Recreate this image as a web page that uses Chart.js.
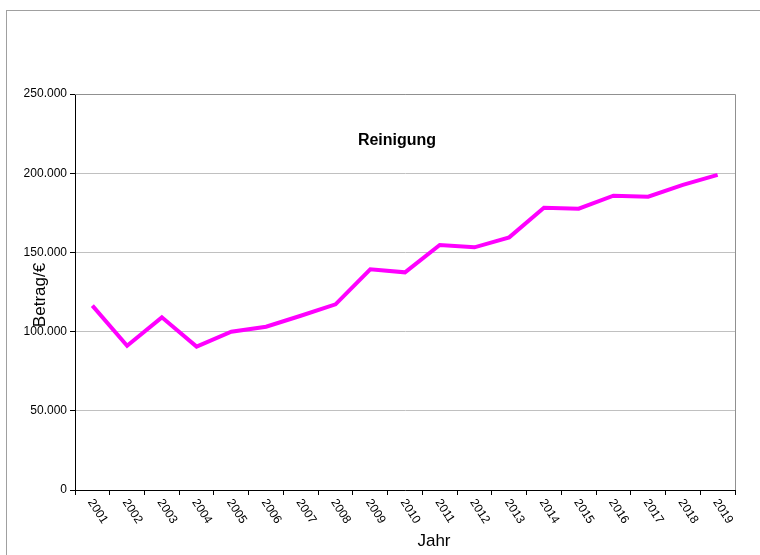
<!DOCTYPE html>
<html>
<head>
<meta charset="utf-8">
<title>Reinigung</title>
<script src="https://cdn.jsdelivr.net/npm/chart.js@4.4.1/dist/chart.umd.min.js"></script>
<style>
    body { margin: 0; background: #fff; }
    #wrap { width: 760px; height: 555px; }
</style>
</head>
<body>
<div id="wrap"><canvas id="lineChart" width="760" height="555"></canvas></div>
<script>
const years = ['2001', '2002', '2003', '2004', '2005', '2006', '2007', '2008', '2009', '2010',
    '2011', '2012', '2013', '2014', '2015', '2016', '2017', '2018', '2019'];
const amounts = [116400, 91100, 109000, 90500, 99900, 103100, 110000, 117200, 139300, 137400,
    154700, 153200, 159500, 178200, 177600, 185800, 185200, 192600, 198900];
const yTicks = [0, 50000, 100000, 150000, 200000, 250000];

function formatNumber(v) {
    return v.toString().replace(/\B(?=(\d{3})+(?!\d))/g, '.');
}

// frame, plot border, title, axis titles and slanted year labels
const excelLook = {
    id: 'excelLook',
    beforeDraw(chart) {
        const ctx = chart.ctx;
        ctx.save();
        ctx.strokeStyle = '#a0a0a0';
        ctx.lineWidth = 1;
        ctx.strokeRect(6.5, 10.5, 800, 700);
        ctx.restore();
    },
    afterDraw(chart) {
        const ctx = chart.ctx;
        const area = chart.chartArea;
        const xScale = chart.scales.x;

        ctx.save();
        ctx.strokeStyle = '#909090';
        ctx.lineWidth = 1;
        ctx.beginPath();
        ctx.moveTo(area.left, area.top + 0.5);
        ctx.lineTo(area.right + 0.5, area.top + 0.5);
        ctx.lineTo(area.right + 0.5, area.bottom);
        ctx.stroke();

        ctx.fillStyle = '#000';
        ctx.font = 'bold 16px "Liberation Sans", Arial, sans-serif';
        ctx.textAlign = 'center';
        ctx.textBaseline = 'middle';
        ctx.fillText('Reinigung', area.left + 322, area.top + 47);

        ctx.font = '17px "Liberation Sans", Arial, sans-serif';
        ctx.fillText('Jahr', 434, 541);

        ctx.save();
        ctx.translate(40, 295);
        ctx.rotate(-Math.PI / 2);
        ctx.fillText('Betrag/€', 0, 0);
        ctx.restore();

        ctx.font = '12px "Liberation Sans", Arial, sans-serif';
        ctx.textAlign = 'left';
        ctx.textBaseline = 'top';
        years.forEach((label, i) => {
            const x = xScale.getPixelForValue(i);
            ctx.save();
            ctx.translate(x + 3, 497);
            ctx.rotate(57 * Math.PI / 180);
            ctx.fillText(label, 0, 0);
            ctx.restore();
        });
        ctx.restore();
    }
};

new Chart(document.getElementById('lineChart'), {
    type: 'line',
    data: {
        labels: years,
        datasets: [{
            label: 'Reinigung',
            data: amounts,
            borderColor: '#ff00ff',
            borderWidth: 4,
            pointRadius: 0,
            tension: 0,
            fill: false
        }]
    },
    options: {
        responsive: false,
        animation: false,
        layout: {
            padding: { left: 0, top: 94, right: 25, bottom: 0 }
        },
        plugins: {
            legend: { display: false },
            tooltip: { enabled: false }
        },
        scales: {
            x: {
                offset: true,
                grid: {
                    offset: true,
                    drawOnChartArea: false,
                    tickLength: 5,
                    tickColor: '#000'
                },
                border: { color: '#000', width: 1 },
                ticks: { display: false },
                afterFit(scale) { scale.height = 65; }
            },
            y: {
                min: 0,
                max: 250000,
                afterBuildTicks(scale) {
                    scale.ticks = yTicks.map(v => ({ value: v }));
                },
                grid: {
                    color: '#c0c0c0',
                    tickLength: 5,
                    tickColor: '#000'
                },
                border: { color: '#000', width: 1 },
                ticks: {
                    padding: 3,
                    color: '#000',
                    font: { family: '"Liberation Sans", Arial, sans-serif', size: 12 },
                    callback: v => formatNumber(v)
                },
                afterFit(scale) { scale.width = 75; }
            }
        }
    },
    plugins: [excelLook]
});
</script>
</body>
</html>
